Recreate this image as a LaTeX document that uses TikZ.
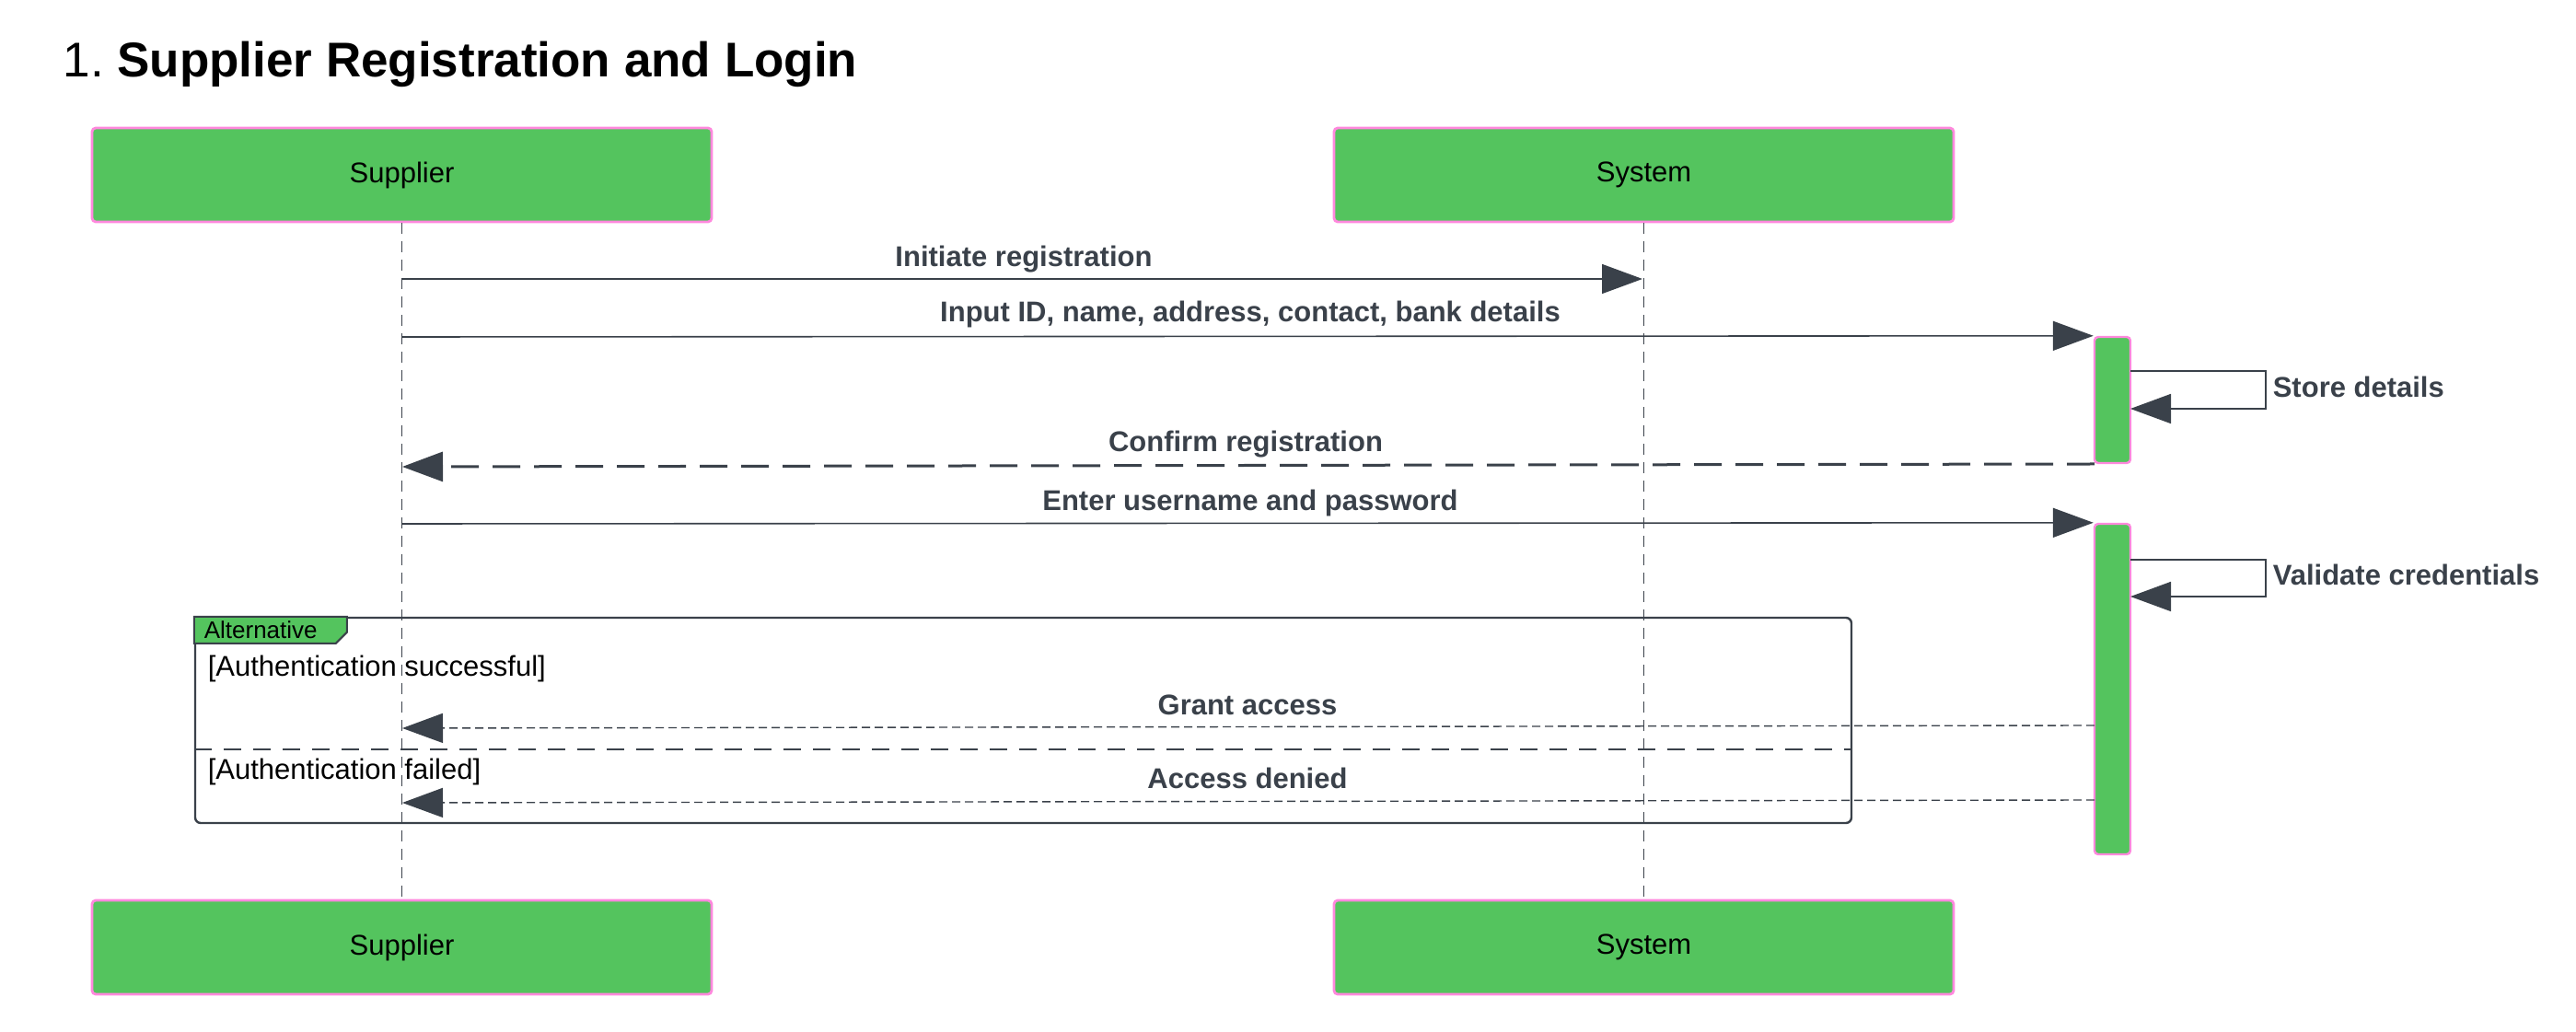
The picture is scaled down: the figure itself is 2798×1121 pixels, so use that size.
\documentclass[tikz,border=0pt]{standalone}
\usepackage{fontspec}
\setmainfont{Liberation Sans}
\usetikzlibrary{arrows.meta}
\definecolor{grn}{HTML}{54C45E}
\definecolor{pnk}{HTML}{FF88DD}
\definecolor{drk}{HTML}{3A414A}
\tikzset{
  actor/.style={draw=pnk, line width=0.7pt, fill=grn, rounded corners=1pt,
    minimum width=168.25pt, minimum height=25.5pt, inner sep=0pt,
    font=\fontsize{7.75pt}{9pt}\selectfont, text=black},
  actbar/.style={draw=pnk, line width=0.6pt, fill=grn, rounded corners=1pt,
    minimum width=9.75pt, inner sep=0pt},
  tipA/.style={-{Triangle[length=11pt,width=8pt]}},
  msg/.style={draw=drk, line width=0.4pt, tipA},
  retthick/.style={draw=drk, line width=0.75pt, dash pattern=on 7.5pt off 3.75pt, tipA},
  retthin/.style={draw=drk, line width=0.35pt, dash pattern=on 2.25pt off 1.25pt, tipA},
  lifeline/.style={draw=drk, line width=0.35pt, dash pattern=on 3pt off 2pt},
  lbl/.style={text=drk, font=\bfseries\fontsize{7.75pt}{9pt}\selectfont, anchor=base, inner sep=0pt},
  plain/.style={text=black, font=\fontsize{7.75pt}{9pt}\selectfont, anchor=base west, inner sep=0pt},
}
\begin{document}
\begin{tikzpicture}[x=0.25pt,y=-0.25pt]
\useasboundingbox (0,0) rectangle (2798,1121);
% title
\node[anchor=base west, inner sep=0pt, font=\fontsize{13.25pt}{15pt}\selectfont] (title) at (68,84) {1.\hspace{3.6pt}\textbf{Supplier Registration and Login}};
% actors
\node[actor] (supT) at (436.5,190) {Supplier};
\node[actor] (sysT) at (1785.5,190) {System};
\node[actor] (supB) at (436.5,1029) {Supplier};
\node[actor] (sysB) at (1785.5,1029) {System};
% lifelines
\draw[lifeline] (supT.south) -- (supB.north);
\draw[lifeline] (sysT.south) -- (sysB.north);
% alt frame
\node[draw=drk, line width=0.6pt, rounded corners=1.5pt, minimum width=449.75pt, minimum height=55.75pt, inner sep=0pt] (alt) at (1111.5,782.5) {};
\draw[fill=grn, draw=drk, line width=0.5pt] (alt.north west) -- ++(166,0) -- ++(0,17) -- ++(-12,12) -- ++(-154,0) -- cycle;
\node[anchor=base west, inner sep=0pt, font=\fontsize{6.5pt}{8pt}\selectfont] (altlbl) at (221,694) {Alternative};
\coordinate (div) at (0,814);
\draw[drk, line width=0.6pt, dash pattern=on 4.75pt off 3.25pt] (alt.west |- div) -- (alt.east |- div);
\node[plain] (g1) at (225,735) {[Authentication successful]};
\node[plain] (g2) at (225,847) {[Authentication failed]};
% activation bars
\node[actbar, minimum height=34.25pt] (a1) at (2294.5,434.5) {};
\node[actbar, minimum height=89.75pt] (a2) at (2294.5,748.5) {};
% message coordinates
\coordinate (m1s) at (437,303); \coordinate (m1e) at (1784,303);
\coordinate (m2s) at (437,366);
\coordinate (sd1) at (2314,403); \coordinate (sd2) at (2314,444);
\coordinate (m3s) at (2275,504); \coordinate (m3e) at (437,507);
\coordinate (m4s) at (437,569);
\coordinate (vc1) at (2314,608); \coordinate (vc2) at (2314,648);
\coordinate (m5s) at (2275,788); \coordinate (m5e) at (437,791);
\coordinate (m6s) at (2275,869); \coordinate (m6e) at (437,872);
% messages
\draw[msg] (m1s) -- (m1e);
\node[lbl] (l1) at (1112,290) {Initiate registration};
\draw[msg] (m2s) -- (a1.north west);
\node[lbl] (l2) at (1358,350) {Input ID, name, address, contact, bank details};
\draw[msg] (sd1) -- ++(147,0) |- (sd2);
\node[lbl, anchor=base west] (l3) at (2468,432) {Store details};
\draw[retthick] (m3s) -- (m3e);
\node[lbl] (l4) at (1353,491) {Confirm registration};
\draw[msg] (m4s) -- (a2.north west);
\node[lbl] (l5) at (1358,555) {Enter username and password};
\draw[msg] (vc1) -- ++(147,0) |- (vc2);
\node[lbl, anchor=base west] (l6) at (2468,636) {Validate credentials};
\draw[retthin] (m5s) -- (m5e);
\node[lbl] (l7) at (1355,777) {Grant access};
\draw[retthin] (m6s) -- (m6e);
\node[lbl] (l8) at (1355,857) {Access denied};
\end{tikzpicture}
\end{document}
